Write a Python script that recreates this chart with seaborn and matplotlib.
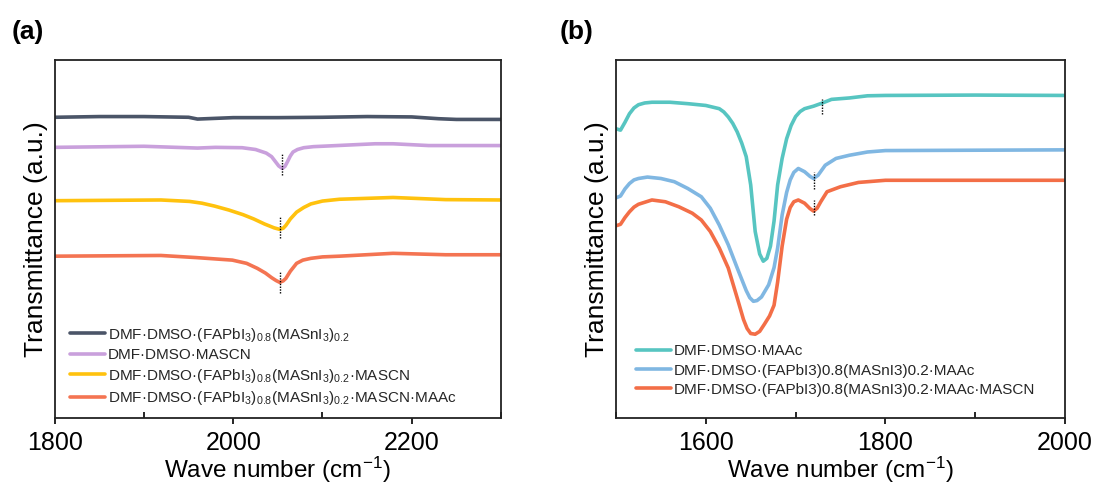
import numpy as np
import pandas as pd
import matplotlib
matplotlib.use("Agg")
import matplotlib.pyplot as plt
import seaborn as sns

sns.set_theme(style="white")
plt.rcParams['font.family'] = ['Liberation Sans', 'DejaVu Sans']
plt.rcParams['mathtext.fontset'] = 'custom'
plt.rcParams['mathtext.rm'] = 'Liberation Sans'
plt.rcParams['mathtext.it'] = 'Liberation Sans'
plt.rcParams['mathtext.default'] = 'regular'

# ---------------- Panel (a) data ----------------
a_labels = [
    r'DMF·DMSO·(FAPbI$_3$)$_{0.8}$(MASnI$_3$)$_{0.2}$',
    'DMF·DMSO·MASCN',
    r'DMF·DMSO·(FAPbI$_3$)$_{0.8}$(MASnI$_3$)$_{0.2}$·MASCN',
    r'DMF·DMSO·(FAPbI$_3$)$_{0.8}$(MASnI$_3$)$_{0.2}$·MASCN·MAAc',
]
a_colors = ['#4B5568', '#C9A0DC', '#FFC20E', '#F47452']

a1_x = [1800, 1850, 1900, 1950, 1960, 1980, 2000, 2050, 2100, 2150, 2200, 2230, 2250, 2300]
a1_y = [84.0, 84.2, 84.2, 84.0, 83.5, 83.7, 83.9, 83.9, 84.0, 84.2, 84.1, 83.6, 83.4, 83.4]

a2_x = [1800, 1900, 1960, 1980, 2010, 2025, 2037, 2043, 2047, 2051, 2055, 2058, 2061, 2064, 2067,
        2072, 2079, 2090, 2099, 2159, 2179, 2219, 2300]
a2_y = [75.6, 75.9, 75.4, 75.6, 75.5, 75.0, 74.0, 73.0, 71.7, 70.4, 69.7, 70.3, 71.7, 73.2, 74.3,
        75.0, 75.5, 75.8, 75.9, 76.6, 76.6, 76.1, 76.1]

a3_x = [1800, 1919, 1951, 1965, 1979, 1995, 2011, 2023, 2035, 2046, 2052, 2056, 2059, 2064, 2071,
        2079, 2087, 2100, 2119, 2179, 2238, 2300]
a3_y = [60.7, 60.9, 60.5, 60.0, 59.2, 58.1, 56.8, 55.6, 54.2, 53.1, 52.7, 53.0, 53.8, 55.6, 57.5,
        58.8, 59.8, 60.6, 61.1, 61.6, 61.0, 60.9]

a4_x = [1800, 1919, 1959, 1999, 2015, 2027, 2036, 2043, 2048, 2052, 2056, 2059, 2064, 2071, 2078,
        2087, 2100, 2119, 2179, 2238, 2300]
a4_y = [45.2, 45.4, 44.8, 44.1, 43.2, 41.8, 40.5, 39.2, 38.4, 37.9, 38.3, 39.0, 41.0, 43.2, 44.1,
        44.6, 45.0, 45.2, 46.0, 45.6, 45.6]

a_mark_x = [2055, 2052, 2052]
a_mark_top = [73.8, 56.5, 40.9]
a_mark_bot = [67.8, 50.4, 34.9]

# ---------------- Panel (b) data ----------------
b_labels = [
    'DMF·DMSO·MAAc',
    'DMF·DMSO·(FAPbI3)0.8(MASnI3)0.2·MAAc',
    'DMF·DMSO·(FAPbI3)0.8(MASnI3)0.2·MAAc·MASCN',
]
b_colors = ['#57C5C1', '#80B7E2', '#F36E47']

b1_x = [1500, 1505, 1510, 1515, 1520, 1525, 1532, 1540, 1560, 1580, 1600, 1615, 1620, 1625, 1630, 1635,
        1640, 1645, 1650, 1655, 1660, 1664, 1668, 1672, 1676, 1680, 1685, 1690, 1695, 1700, 1705,
        1710, 1720, 1730, 1740, 1760, 1780, 1800, 1900, 2000]
b1_y = [80.8, 80.4, 82.6, 85.0, 86.6, 87.5, 88.0, 88.2, 88.2, 87.8, 87.3, 86.4, 85.5, 84.1, 82.3, 79.9,
        76.8, 73.0, 65.1, 52.1, 45.8, 43.8, 44.6, 48.0, 55.0, 65.1, 72.5, 78.0, 81.7, 84.2, 85.6,
        86.4, 87.1, 88.0, 89.0, 89.4, 90.0, 90.1, 90.2, 90.1]

b2_x = [1500, 1505, 1510, 1515, 1520, 1525, 1535, 1550, 1565, 1580, 1595, 1605, 1615, 1625, 1635,
        1645, 1649, 1653, 1657, 1662, 1670, 1676, 1680, 1685, 1690, 1694, 1698, 1703, 1710, 1716,
        1720, 1725, 1733, 1745, 1760, 1780, 1800, 2000]
b2_y = [61.5, 62.0, 64.0, 65.5, 66.5, 66.9, 67.3, 66.9, 66.0, 64.1, 61.8, 58.6, 53.9, 48.4, 41.9,
        35.6, 33.6, 32.6, 32.8, 33.8, 37.2, 42.0, 47.5, 56.7, 63.0, 66.5, 68.6, 69.7, 68.8, 67.5,
        66.9, 67.8, 70.6, 72.5, 73.4, 74.3, 74.7, 74.9]

b3_x = [1500, 1505, 1510, 1515, 1520, 1525, 1540, 1555, 1570, 1585, 1595, 1605, 1615, 1625, 1635,
        1642, 1646, 1650, 1655, 1660, 1665, 1671, 1676, 1680, 1685, 1690, 1694, 1698, 1703, 1710,
        1716, 1720, 1724, 1728, 1735, 1750, 1770, 1800, 2000]
b3_y = [53.7, 54.1, 56.0, 57.6, 58.9, 59.7, 60.9, 60.4, 59.0, 57.2, 55.3, 52.1, 47.5, 41.9, 33.5,
        27.5, 25.0, 23.6, 23.4, 24.2, 26.1, 28.5, 31.5, 38.0, 48.0, 55.5, 58.8, 60.4, 60.9, 60.0,
        58.5, 57.8, 58.6, 60.4, 63.2, 64.6, 65.8, 66.4, 66.4]

b_mark_x = [1729, 1721, 1720]
b_mark_top = [89.0, 68.8, 60.9]
b_mark_bot = [85.0, 63.9, 56.7]


def make_df(xs, ys, labels):
    frames = []
    for x, y, lab in zip(xs, ys, labels):
        frames.append(pd.DataFrame({'x': x, 'y': y, 'series': lab}))
    return pd.concat(frames, ignore_index=True)


df_a = make_df([a1_x, a2_x, a3_x, a4_x], [a1_y, a2_y, a3_y, a4_y], a_labels)
df_b = make_df([b1_x, b2_x, b3_x], [b1_y, b2_y, b3_y], b_labels)

fig = plt.figure(figsize=(10.93, 4.84), dpi=100)
bot_px, top_px = 418, 60
ax_a = fig.add_axes([54.7 / 1093, (484 - bot_px) / 484, (501 - 54.7) / 1093, (bot_px - top_px) / 484])
ax_b = fig.add_axes([616 / 1093, (484 - bot_px) / 484, (1065 - 616) / 1093, (bot_px - top_px) / 484])

lw = 2.6
sns.lineplot(data=df_a, x='x', y='y', hue='series', palette=a_colors, hue_order=a_labels,
             sort=False, estimator=None, linewidth=lw, legend=False, ax=ax_a)
sns.lineplot(data=df_b, x='x', y='y', hue='series', palette=b_colors, hue_order=b_labels,
             sort=False, estimator=None, linewidth=lw, legend=False, ax=ax_b)

for ax, mx, mt, mb in [(ax_a, a_mark_x, a_mark_top, a_mark_bot), (ax_b, b_mark_x, b_mark_top, b_mark_bot)]:
    ax.vlines(mx, mb, mt, colors='black', linestyles=(0, (1, 1)), linewidth=1.0, zorder=5)

ax_a.set_xlim(1800, 2300)
ax_b.set_xlim(1500, 2000)
ax_a.set_ylim(0, 100)
ax_b.set_ylim(0, 100)

for ax, major, minor in [(ax_a, [1800, 2000, 2200], [1900, 2100, 2300]),
                         (ax_b, [1600, 1800, 2000], [1500, 1700, 1900])]:
    ax.set_xticks(major)
    ax.set_xticks(minor, minor=True)
    ax.set_yticks([])
    ax.tick_params(axis='x', which='major', direction='out', length=4, width=1.2,
                   labelsize=18, pad=5, color='black', labelcolor='black', bottom=True)
    ax.tick_params(axis='x', which='minor', direction='in', length=4, width=1.2,
                   color='black', bottom=True)
    for s in ax.spines.values():
        s.set_visible(True)
        s.set_color('#222222')
        s.set_linewidth(1.3)
    ax.set_xlabel('Wave number (cm$^{-1}$)', fontsize=17.5, labelpad=0.5, color='black')
    ax.set_ylabel('Transmittance (a.u.)', fontsize=19, labelpad=5, color='black')

handles_a = ax_a.get_lines()[:4]
leg_a = ax_a.legend(handles_a, a_labels, loc='lower left', bbox_to_anchor=(0.01, 0.0),
                    frameon=False, fontsize=11, handlelength=2.3, handletextpad=0.2,
                    labelspacing=0.3, borderaxespad=0.3)
handles_b = ax_b.get_lines()[:3]
leg_b = ax_b.legend(handles_b, b_labels, loc='lower left', bbox_to_anchor=(0.02, 0.03),
                    frameon=False, fontsize=11, handlelength=2.3, handletextpad=0.2,
                    labelspacing=0.33, borderaxespad=0.3)

fig.text(12 / 1093, 1 - 39 / 484, '(a)', fontsize=19, fontweight='bold', color='black')
fig.text(560 / 1093, 1 - 39 / 484, '(b)', fontsize=19, fontweight='bold', color='black')

fig.savefig('out.png', dpi=100, facecolor='white')
